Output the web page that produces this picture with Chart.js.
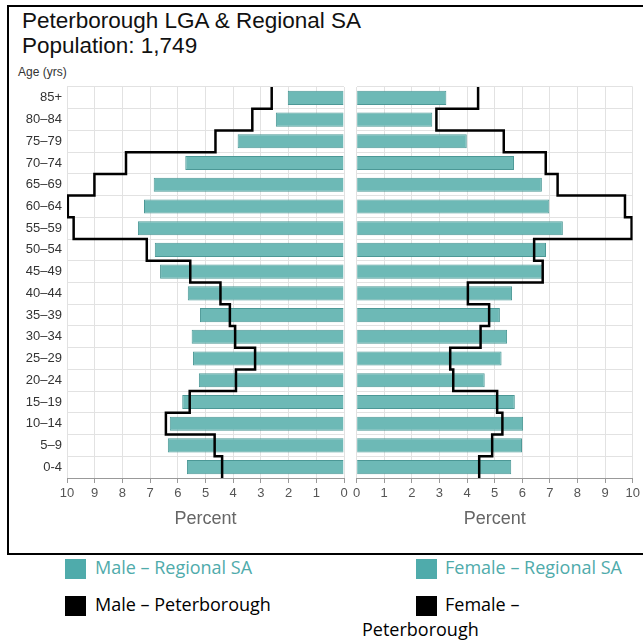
<!DOCTYPE html>
<html>
<head>
<meta charset="utf-8">
<script src="https://cdn.jsdelivr.net/npm/chart.js@4"></script>
<style>
  body { margin: 0; background: #fff; width: 643px; height: 641px; overflow: hidden; position: relative; font-family: "Liberation Sans", Arial, sans-serif; }
  #frame { position: absolute; left: 7px; top: 5px; width: 660px; height: 546px; border: 2.5px solid #000; border-right: none; }
  .title { position: absolute; left: 22px; font-size: 22.5px; color: #111; white-space: nowrap; }
  #ageLbl { position: absolute; left: 18px; top: 65px; font: 12px "Liberation Sans Narrow", "Arial Narrow", sans-serif; color: #333; }
  canvas { position: absolute; }
  .leg { position: absolute; font: 18px "Open Sans", "Noto Sans", sans-serif; white-space: nowrap; }
  .sw { position: absolute; width: 21px; height: 20px; }
</style>
</head>
<body>
<div id="frame"></div>
<div class="title" style="top:8px">Peterborough LGA &amp; Regional SA</div>
<div class="title" style="top:33px">Population: 1,749</div>
<div id="ageLbl">Age (yrs)</div>
<canvas id="male" width="350" height="450" style="left:0;top:80px"></canvas>
<canvas id="female" width="293" height="450" style="left:350px;top:80px"></canvas>

<div class="sw" style="left:65px;top:559px;background:#4fabab"></div>
<div class="leg" style="left:95px;top:555px;color:#4fabab">Male – Regional SA</div>
<div class="sw" style="left:416px;top:559px;background:#4fabab"></div>
<div class="leg" style="left:445px;top:555px;color:#4fabab">Female – Regional SA</div>
<div class="sw" style="left:65px;top:596px;background:#000"></div>
<div class="leg" style="left:95px;top:592px;color:#000">Male – Peterborough</div>
<div class="sw" style="left:416px;top:596px;background:#000"></div>
<div class="leg" style="left:445px;top:592px;color:#000">Female –</div>
<div class="leg" style="left:362px;top:617px;color:#000">Peterborough</div>

<script>
// age groups, youngest first (drawn bottom to top)
const ageGroups = ['0-4', '5–9', '10–14', '15–19', '20–24', '25–29', '30–34', '35–39', '40–44',
  '45–49', '50–54', '55–59', '60–64', '65–69', '70–74', '75–79', '80–84', '85+'];

// percent of population, Regional SA
const maleRegional   = [5.67, 6.36, 6.29, 5.84, 5.24, 5.45, 5.50, 5.20, 5.64, 6.64, 6.83, 7.44, 7.22, 6.87, 5.73, 3.84, 2.46, 2.03];
const femaleRegional = [5.60, 5.99, 6.03, 5.73, 4.64, 5.25, 5.45, 5.19, 5.63, 6.73, 6.86, 7.47, 6.98, 6.71, 5.70, 3.99, 2.74, 3.25];

// percent of population, Peterborough LGA
const malePeterborough   = [4.40, 4.67, 6.43, 5.57, 3.90, 3.21, 3.93, 4.12, 4.46, 5.55, 7.12, 9.76, 9.97, 9.01, 7.87, 4.64, 3.31, 2.61];
const femalePeterborough = [4.44, 4.91, 5.28, 5.09, 3.50, 3.39, 4.49, 4.80, 4.03, 6.74, 6.43, 9.96, 9.72, 7.28, 6.85, 5.33, 2.89, 4.40];

const percentTicks = [0, 1, 2, 3, 4, 5, 6, 7, 8, 9, 10];

const narrow = '"Liberation Sans Narrow", "Arial Narrow", sans-serif';
const gridColor = '#e2e2e2';

// step outline: each age band gets a vertical run from its lower to upper edge
function stepPoints(values) {
  const pts = [];
  values.forEach((v, i) => {
    pts.push({ x: v, y: i - 0.5 });
    pts.push({ x: v, y: i + 0.5 });
  });
  return pts;
}

function pyramidSide(canvasId, regional, local, isLeft) {
  const ctx = document.getElementById(canvasId).getContext('2d');
  return new Chart(ctx, {
    type: 'bar',
    data: {
      labels: ageGroups,
      datasets: [
        {
          label: 'Regional SA',
          data: regional,
          backgroundColor: '#6db9b6',
          borderColor: '#4c9896',
          borderWidth: 1,
          grouped: false,
          categoryPercentage: 1,
          barPercentage: 0.65,
          order: 2
        },
        {
          label: 'Peterborough',
          type: 'line',
          data: stepPoints(local),
          xAxisID: 'x',
          yAxisID: 'yl',
          borderColor: '#000',
          borderWidth: 2.5,
          pointRadius: 0,
          fill: false,
          tension: 0,
          order: 1
        }
      ]
    },
    options: {
      indexAxis: 'y',
      responsive: false,
      animation: false,
      layout: { padding: isLeft ? { top: 7, right: 6 } : { top: 7, left: 5.7, right: 10.3 } },
      plugins: { legend: { display: false }, tooltip: { enabled: false } },
      scales: {
        x: {
          type: 'linear',
          min: percentTicks[0],
          max: percentTicks[percentTicks.length - 1],
          reverse: isLeft,
          afterBuildTicks: s => { s.ticks = percentTicks.map(v => ({ value: v })); },
          grid: { color: gridColor, tickLength: 5, tickColor: '#999' },
          border: { color: '#999' },
          ticks: { color: '#555', padding: 3, font: { family: narrow, size: 13 } },
          title: {
            display: true,
            text: 'Percent',
            color: '#666',
            padding: { top: 4, bottom: 0 },
            font: { family: narrow, size: 18 }
          },
          afterFit: s => { s.height = 52; }
        },
        y: {
          type: 'category',
          reverse: true,
          grid: { color: gridColor, offset: true, drawTicks: false },
          border: { display: false },
          ticks: { display: isLeft, color: '#333', padding: 5, font: { family: narrow, size: 13 } },
          afterFit: s => {
            s.width = isLeft ? 67 : 0;
            s.paddingTop = 0;
            s.paddingBottom = 0;
          }
        },
        yl: {
          type: 'linear',
          min: -0.5,
          max: ageGroups.length - 0.5,
          offset: false,
          display: false
        }
      }
    }
  });
}

pyramidSide('male', maleRegional, malePeterborough, true);
pyramidSide('female', femaleRegional, femalePeterborough, false);
</script>
</body>
</html>
